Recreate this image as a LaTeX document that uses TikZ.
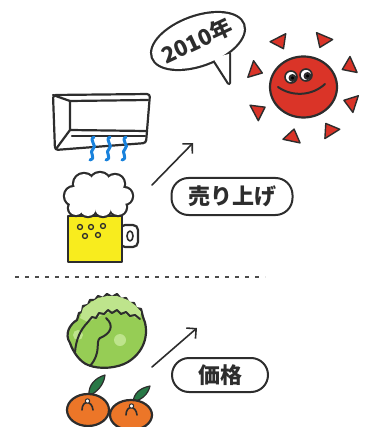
\documentclass[tikz,border=0pt]{standalone}
\usepackage{fontspec}
\newfontfamily\jpfont{Noto Sans CJK JP}
\usetikzlibrary{arrows.meta}

\definecolor{ink}{RGB}{45,45,45}
\definecolor{sunred}{RGB}{218,52,40}
\definecolor{beer}{RGB}{248,236,30}
\definecolor{coolblue}{RGB}{25,130,220}
\definecolor{lettuce}{RGB}{150,205,85}
\definecolor{lettucelt}{RGB}{190,228,140}
\definecolor{mikan}{RGB}{236,118,40}
\definecolor{leafgreen}{RGB}{40,120,70}

\begin{document}
\begin{tikzpicture}[x=1pt,y=-1pt,line join=round,line cap=round,
  ink/.style={draw=ink,line width=2.2pt},
  tag/.style={draw=ink,line width=2pt,rounded corners=17pt,inner sep=0pt,
    font=\jpfont\bfseries\fontsize{22}{22}\selectfont,text=ink},
  up/.style={-{Straight Barb[length=7pt,width=14pt]},draw=ink,line width=1.6pt}]
\useasboundingbox (0,0) rectangle (367,427);

% speech bubble: thick outline first, white fill on top merges the tail
\draw[draw=ink,line width=4.4pt] (198,41) ellipse[x radius=48,y radius=24,rotate=20]
  (213,58) -- (229,83) -- (229,54) -- cycle;
\fill[white] (198,41) ellipse[x radius=48,y radius=24,rotate=20];
\fill[white] (213,58) -- (229,83) -- (229,54) -- cycle;
\node[rotate=25,inner sep=0pt,font=\jpfont\bfseries\fontsize{22}{22}\selectfont,text=ink] (year) at (197,41) {2010年};

% sun
\foreach \a in {-117,-67,-24,18,58,102,152,199}
  \filldraw[fill=sunred,draw=ink,line width=1.4pt,shift={(303,87)}]
    (\a:43) -- (\a-9:56) -- (\a+9:56) -- cycle;
\filldraw[fill=sunred,ink] (303.5,87) ellipse[x radius=33.5,y radius=30.5];
\filldraw[fill=white,draw=ink,line width=1.6pt] (291,77) circle (6) (306,75) circle (6);
\fill[ink] (292.5,78) circle (2.8) (307.5,76) circle (2.8);
\draw[draw=ink,line width=2pt] (278,87) .. controls (292,97) and (312,96) .. (325,84);

% air conditioner
\draw[ink,rounded corners=3pt] (53,95) -- (150,94) -- (146,143) -- (55,150) -- cycle;
\draw[ink] (53,95) -- (70,101) -- (148,100);
\draw[ink] (70,101) -- (70,130) -- (146,131);
\draw[ink] (70,130) -- (56,149);
\draw[ink] (72,136) -- (145,136);
\foreach \x in {93,109,125}
  \draw[coolblue,line width=3pt] (\x+1,137) .. controls (\x-5,140) and (\x+5,146) .. (\x,149)
    .. controls (\x-5,152) and (\x+4,158) .. (\x-3,160);

% beer mug
\filldraw[fill=white,ink,rounded corners=5pt] (120,225) rectangle (138,247);
\draw[draw=ink,line width=1.6pt] (130,236) ellipse[x radius=3,y radius=5];
\filldraw[fill=beer,ink] (68,216) rectangle (122,262);
\foreach \p in {(80,227),(91,227),(103,226),(85,236),(98,235)}
  \filldraw[fill=beer,draw=ink,line width=1.3pt] \p circle (2.5);
\foreach \c/\r in {{(74,196)}/9,{(84,184)}/10,{(100,183)}/10,{(115,184)}/9,{(124,196)}/8,
    {(118,207)}/8,{(103,208)}/8,{(88,208)}/8,{(76,208)}/7}
  \draw[draw=ink,line width=4.4pt] \c circle (\r);
\foreach \c/\r in {{(74,196)}/9,{(84,184)}/10,{(100,183)}/10,{(115,184)}/9,{(124,196)}/8,
    {(118,207)}/8,{(103,208)}/8,{(88,208)}/8,{(76,208)}/7}
  \fill[white] \c circle (\r);
\fill[white] (74,196) -- (84,184) -- (100,183) -- (115,184) -- (124,196) -- (118,207)
  -- (103,208) -- (88,208) -- (76,208) -- cycle;

\draw[up] (152,185) -- (193,143);
\node[tag,minimum width=121pt,minimum height=37pt] (sales) at (232,196.5) {売り上げ};

% divider
\draw[draw=ink!85,line width=2pt,line cap=butt,dash pattern=on 4pt off 6pt] (15,277) -- (265,277);

% lettuce
\filldraw[fill=lettuce,ink] (70,343) .. controls (64,334) and (70,324) .. (77,320)
  -- (79,313) -- (82,312) -- (83,306) -- (88,305) -- (90,300) -- (95,300) -- (98,296)
  -- (103,298) -- (107,294) -- (112,297) -- (117,294) -- (121,299) -- (126,298)
  -- (129,303) -- (134,303) -- (136,308) -- (141,309) -- (143,317)
  .. controls (149,330) and (147,350) .. (128,362)
  .. controls (118,368) and (100,370) .. (88,365)
  .. controls (80,362) and (73,352) .. (70,343) -- cycle;
\fill[lettucelt] (80,318) -- (83,308) -- (90,303) -- (98,298) -- (107,296) -- (117,296)
  -- (128,300) -- (136,306) -- (141,312) -- (140,319) -- (130,316) -- (117,310)
  -- (104,314) -- (88,322) -- cycle;
\fill[lettucelt] (78,335) circle (5) (120,340) circle (6);
\draw[ink,line width=2pt] (88,322) -- (92,317) -- (96,318) -- (99,313) -- (104,314)
  -- (108,310) -- (112,313) -- (117,310) -- (121,314) -- (126,312) -- (130,316)
  -- (135,315) -- (140,319);
\draw[ink,line width=2pt] (106,318) .. controls (115,326) and (110,334) .. (100,338)
  .. controls (95,342) and (102,352) .. (90,366);
\draw[ink,line width=2pt] (88,322) .. controls (80,330) and (76,340) .. (75,352);

\draw[up] (152,367) -- (197,328);
\node[tag,minimum width=96pt,minimum height=34pt] (price) at (220,375) {価格};

% mandarins
\filldraw[fill=leafgreen,draw=ink,line width=1.2pt] (89,396) .. controls (88,385) and (95,378) .. (105,375)
  .. controls (104,385) and (97,392) .. (89,396) -- cycle;
\filldraw[fill=mikan,ink] (88,410) ellipse[x radius=21,y radius=16];
\draw[ink,line width=1.6pt] (82,410) .. controls (82,400) and (92,400) .. (93,410);
\filldraw[fill=white,draw=ink,line width=1pt] (87.5,401) circle (2.2);
\filldraw[fill=leafgreen,draw=ink,line width=1.2pt] (133,402) .. controls (134,393) and (140,388) .. (150,386)
  .. controls (148,395) and (141,400) .. (133,402) -- cycle;
\filldraw[fill=mikan,ink] (131,415) ellipse[x radius=21,y radius=15];
\draw[ink,line width=1.6pt] (126,415) .. controls (126,405) and (136,405) .. (137,415);
\filldraw[fill=white,draw=ink,line width=1pt] (131.5,406) circle (2.2);
\end{tikzpicture}
\end{document}
